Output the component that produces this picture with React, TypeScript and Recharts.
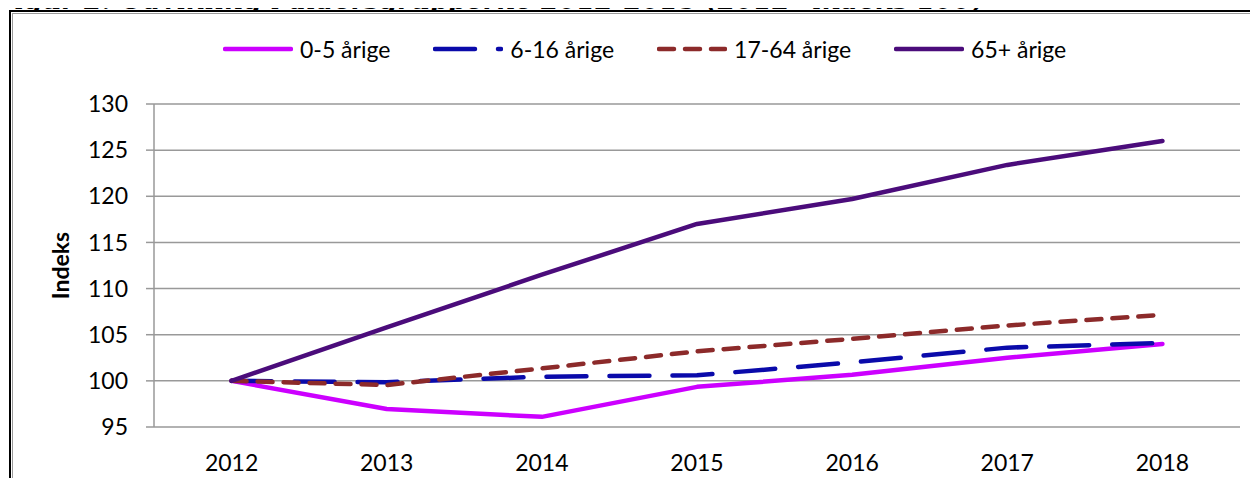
import React from "react";
import { LineChart, Line, XAxis, YAxis, CartesianGrid, Legend, Label } from "recharts";

const FONT = "Lato, 'Open Sans', sans-serif";

const title = "Figur 2: Udvikling i aldersgrupperne 2012-2018 (2012=indeks 100)";
const years = ["2012", "2013", "2014", "2015", "2016", "2017", "2018"];
const age0to5 = [100, 96.95, 96.1, 99.35, 100.65, 102.5, 104.0];
const age6to16 = [100, 99.85, 100.45, 100.6, 102.0, 103.6, 104.1];
const age17to64 = [100, 99.55, 101.35, 103.2, 104.55, 106.0, 107.15];
const age65plus = [100, 105.8, 111.5, 117.0, 119.7, 123.4, 126.0];
const yTicks = [95, 100, 105, 110, 115, 120, 125, 130];

// tick marks sit on the category boundaries, like the original
const edgeTicks = [...years.map((_, i) => i), years.length];

const series = [
  { key: "age0to5", name: "0-5 årige", color: "#CC00FF", dash: undefined },
  { key: "age6to16", name: "6-16 årige", color: "#0A0AAA", dash: "40 23" },
  { key: "age17to64", name: "17-64 årige", color: "#8C2A2A", dash: "15 11" },
  { key: "age65plus", name: "65+ årige", color: "#4B0C7B", dash: undefined },
];

const rows = years.map((year, i) => ({
  year,
  age0to5: age0to5[i],
  age6to16: age6to16[i],
  age17to64: age17to64[i],
  age65plus: age65plus[i],
}));

const renderLegend = () => (
  <div style={{ display: "flex", alignItems: "center", fontFamily: FONT, fontSize: 23, color: "#000" }}>
    {series.map((s) => (
      <div key={s.key} style={{ display: "flex", alignItems: "center", marginRight: 43 }}>
        <svg width={70} height={10}>
          <line x1={2} y1={5} x2={68} y2={5} stroke={s.color} strokeWidth={4.5} strokeDasharray={s.dash} strokeLinecap="round" />
        </svg>
        <span style={{ marginLeft: 7, whiteSpace: "nowrap" }}>{s.name}</span>
      </div>
    ))}
  </div>
);

const IndeksLabel = (props: any) => {
  const { viewBox } = props;
  const cx = viewBox.x + 60;
  const cy = viewBox.y + viewBox.height / 2;
  return (
    <text
      x={cx}
      y={cy}
      transform={`rotate(-90 ${cx} ${cy})`}
      textAnchor="middle"
      dominantBaseline="central"
      fontFamily={FONT}
      fontWeight="bold"
      fontSize={23}
      fill="#000"
    >
      Indeks
    </text>
  );
};

const App = () => {
  const tickStyle = { fill: "#000", fontSize: 23, fontFamily: FONT };
  return (
    <div style={{ position: "relative", width: 1258, height: 486, margin: -8, overflow: "hidden", background: "#fff" }}>
      <svg width={1258} height={20} style={{ position: "absolute", left: 0, top: 0 }}>
        <text x={-4} y={9} fontFamily="'DejaVu Serif', serif" fontWeight="bold" fontStyle="italic" fontSize={26} fill="#000">
          {title}
        </text>
      </svg>
      <div style={{ position: "absolute", left: 9, top: 10, width: 1400, height: 700, border: "2px solid #000", background: "#fff" }} />
      <div style={{ position: "absolute", left: 12, top: 13, width: 1400, height: 700, borderLeft: "1.5px solid #9a9a9a", borderTop: "1.5px solid #9a9a9a" }} />
      <div style={{ position: "absolute", left: 0, top: 0 }}>
        <LineChart width={1258} height={486} data={rows} margin={{ top: 104, right: 18, bottom: 0, left: 0 }}>
          <CartesianGrid vertical={false} stroke="#999" strokeWidth={1.5} />
          <XAxis
            xAxisId="edge"
            type="number"
            domain={[0, years.length]}
            ticks={edgeTicks}
            allowDataOverflow
            tick={false}
            tickSize={8}
            height={0}
            stroke="#999"
            strokeWidth={1.5}
          />
          <XAxis
            dataKey="year"
            scale="band"
            height={59}
            axisLine={false}
            tickLine={false}
            tickMargin={22}
            interval={0}
            tick={tickStyle}
          />
          <YAxis
            domain={[95, 130]}
            ticks={yTicks}
            allowDataOverflow
            width={154}
            tickSize={8}
            tickMargin={18}
            stroke="#999"
            strokeWidth={1.5}
            tick={tickStyle}
          >
            <Label content={IndeksLabel} />
          </YAxis>
          <Legend
            verticalAlign="middle"
            content={renderLegend}
            wrapperStyle={{ top: 35, left: 223, width: "auto" }}
          />
          {series.map((s) => (
            <Line
              key={s.key}
              dataKey={s.key}
              name={s.name}
              stroke={s.color}
              strokeWidth={4.5}
              strokeDasharray={s.dash}
              strokeLinecap="round"
              strokeLinejoin="round"
              dot={false}
              activeDot={false}
              isAnimationActive={false}
            />
          ))}
        </LineChart>
      </div>
    </div>
  );
};

export default App;
